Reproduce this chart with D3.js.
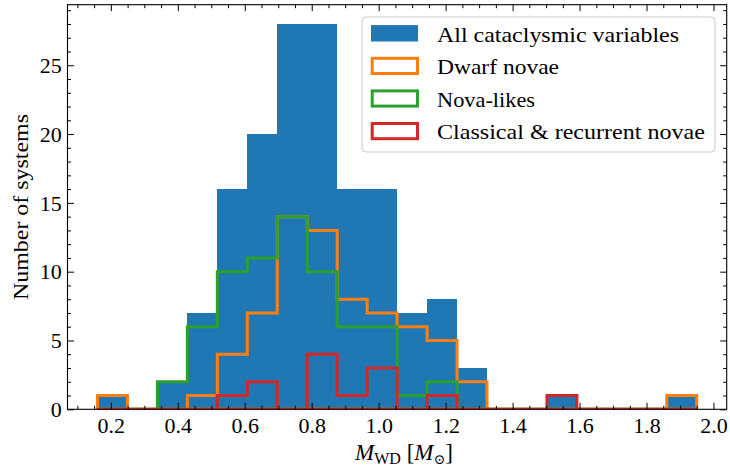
<!DOCTYPE html>
<html><head><meta charset="utf-8">
<script src="https://cdn.jsdelivr.net/npm/d3@7"></script>
<style>
body{margin:0;background:#fff}
svg{display:block}
svg text{font-family:"Liberation Serif","DejaVu Serif",serif !important;fill:#000}
</style>
</head><body>
<script>
// ---- data ----
const binMin = 0.16, binMax = 1.95, nBins = 20;
const allCV          = [1,0,2,7,16,20,28,28,16,16,7,8,3,0,0,1,0,0,0,1];
const dwarfNovae     = [1,0,0,1,4,7,14,13,8,7,6,5,2,0,0,0,0,0,0,1];
const novaLikes      = [0,0,2,6,10,11,14,10,6,6,1,2,0,0,0,0,0,0,0,0];
const classicalNovae = [0,0,0,0,1,2,0,4,1,3,0,1,0,0,0,1,0,0,0,0];
const xTicks = [0.2,0.4,0.6,0.8,1.0,1.2,1.4,1.6,1.8,2.0];
const xMinorTicks = d3.range(0.1,2.04,0.05).map(v=>+v.toFixed(2)).filter(v=>Math.abs(v*5-Math.round(v*5))>1e-6);
const yTicks = [0,5,10,15,20,25];
const yMinorTicks = d3.range(0,30,1).filter(v=>v%5!==0);
const seriesNames = ["All cataclysmic variables","Dwarf novae","Nova-likes","Classical & recurrent novae"];
const seriesColors = ["#1f77b4","#ff7f0e","#2ca02c","#d62728"];

// ---- layout ----
const W=730,H=466;
const L=67.5,R=726.7,T=4.7,B=409.3;
const FONT='"Liberation Serif","DejaVu Serif",serif';
const span=binMax-binMin;
const x=d3.scaleLinear().domain([binMin-0.05*span, binMax+0.05*span]).range([L,R]);
const yMax=d3.max(allCV)*1.05;
const y=d3.scaleLinear().domain([0,yMax]).range([B,T]);
const edges=d3.range(nBins+1).map(i=>binMin+i*span/nBins);

const svg=d3.select("body").append("svg").attr("width",W).attr("height",H)
  .attr("font-family",FONT);
svg.append("defs").append("clipPath").attr("id","clip")
  .append("rect").attr("x",L).attr("y",T).attr("width",R-L).attr("height",B-T);
const plot=svg.append("g").attr("clip-path","url(#clip)");

// filled bars
plot.selectAll("rect.bar").data(allCV.map((c,i)=>({c,i}))).enter()
  .append("rect").attr("class","bar")
  .attr("x",d=>x(edges[d.i]))
  .attr("width",d=>x(edges[d.i+1])-x(edges[d.i]))
  .attr("y",d=>y(d.c))
  .attr("height",d=>y(0)-y(d.c))
  .attr("fill",seriesColors[0]).attr("shape-rendering","crispEdges");

// step outlines
function stepPts(counts){
  const pts=[[edges[0],0]];
  counts.forEach((c,i)=>{pts.push([edges[i],c]);pts.push([edges[i+1],c]);});
  pts.push([edges[nBins],0]);
  return pts;
}
const line=d3.line().x(d=>x(d[0])).y(d=>y(d[1]));
[dwarfNovae,novaLikes,classicalNovae].forEach((s,k)=>{
  plot.append("path").attr("d",line(stepPts(s))+"Z")
    .attr("fill","none").attr("stroke",seriesColors[k+1])
    .attr("stroke-width",3).attr("stroke-linejoin","miter");
});

// axes
function styleAxis(g){
  g.select(".domain").remove();
  g.attr("font-family",FONT);
  g.selectAll(".tick line").attr("stroke","#000").attr("stroke-width",1);
}
const majorLen=6.5, minorLen=3.5;
const xb=svg.append("g").attr("transform",`translate(0,${B})`)
  .call(d3.axisBottom(x).tickValues(xTicks).tickSize(-majorLen).tickFormat(d3.format(".1f")));
styleAxis(xb);
xb.selectAll("text").attr("y",23.4).attr("dy",0).style("font-size","22px").style("font-family",FONT);
svg.append("g").attr("transform",`translate(0,${B})`)
  .call(d3.axisBottom(x).tickValues(xMinorTicks).tickSize(-minorLen).tickFormat("")).call(styleAxis);
svg.append("g").attr("transform",`translate(0,${T})`)
  .call(d3.axisTop(x).tickValues(xTicks).tickSize(-majorLen).tickFormat("")).call(styleAxis);
svg.append("g").attr("transform",`translate(0,${T})`)
  .call(d3.axisTop(x).tickValues(xMinorTicks).tickSize(-minorLen).tickFormat("")).call(styleAxis);

const yl=svg.append("g").attr("transform",`translate(${L},0)`)
  .call(d3.axisLeft(y).tickValues(yTicks).tickSize(-majorLen).tickPadding(6));
styleAxis(yl);
yl.selectAll("text").attr("x",-5.8).attr("dy","0.33em").style("font-size","22px").style("font-family",FONT);
svg.append("g").attr("transform",`translate(${L},0)`)
  .call(d3.axisLeft(y).tickValues(yMinorTicks).tickSize(-minorLen).tickFormat("")).call(styleAxis);
svg.append("g").attr("transform",`translate(${R},0)`)
  .call(d3.axisRight(y).tickValues(yTicks).tickSize(-majorLen).tickFormat("")).call(styleAxis);
svg.append("g").attr("transform",`translate(${R},0)`)
  .call(d3.axisRight(y).tickValues(yMinorTicks).tickSize(-minorLen).tickFormat("")).call(styleAxis);

// spines
svg.append("rect").attr("x",L).attr("y",T).attr("width",R-L).attr("height",B-T)
  .attr("fill","none").attr("stroke","#000").attr("stroke-width",1.1);

// y label
svg.append("text").attr("transform",`translate(27.5,${(T+B)/2}) rotate(-90)`)
  .attr("text-anchor","middle").style("font-size","22px").style("font-family",FONT)
  .attr("textLength",186).attr("lengthAdjust","spacingAndGlyphs")
  .text("Number of systems");

// x label (math)
const xl=svg.append("text").attr("x",404).attr("y",460).attr("text-anchor","middle")
  .style("font-size","23px").style("font-family",FONT);
xl.append("tspan").style("font-style","italic").text("M");
xl.append("tspan").style("font-size","16px").attr("dy",4).text("WD");
xl.append("tspan").attr("dy",-4).text(" [");
xl.append("tspan").style("font-style","italic").text("M");
xl.append("tspan").style("font-size","14px").attr("dy",4).text("\u2299");
xl.append("tspan").attr("dy",-4).text("]");

// legend
const lg=svg.append("g");
lg.append("rect").attr("x",362).attr("y",17).attr("width",353).attr("height",135)
  .attr("rx",4).attr("fill","#fff").attr("fill-opacity",0.8)
  .attr("stroke","#cccccc").attr("stroke-width",1);
const rowY=[33.3,65.9,98.5,131.1];
const textW=[242,122,98,268];
seriesNames.forEach((name,i)=>{
  if(i===0){
    lg.append("rect").attr("x",371).attr("y",rowY[i]-8.2).attr("width",47).attr("height",16.4)
      .attr("fill",seriesColors[i]);
  } else {
    lg.append("rect").attr("x",372.2).attr("y",rowY[i]-7.6).attr("width",45.3).attr("height",15.2)
      .attr("fill","none").attr("stroke",seriesColors[i]).attr("stroke-width",3);
  }
  lg.append("text").attr("x",437).attr("y",rowY[i]+8.3).style("font-size","22px").style("font-family",FONT)
    .attr("textLength",textW[i]).attr("lengthAdjust","spacingAndGlyphs").text(name);
});
</script>
</body></html>
